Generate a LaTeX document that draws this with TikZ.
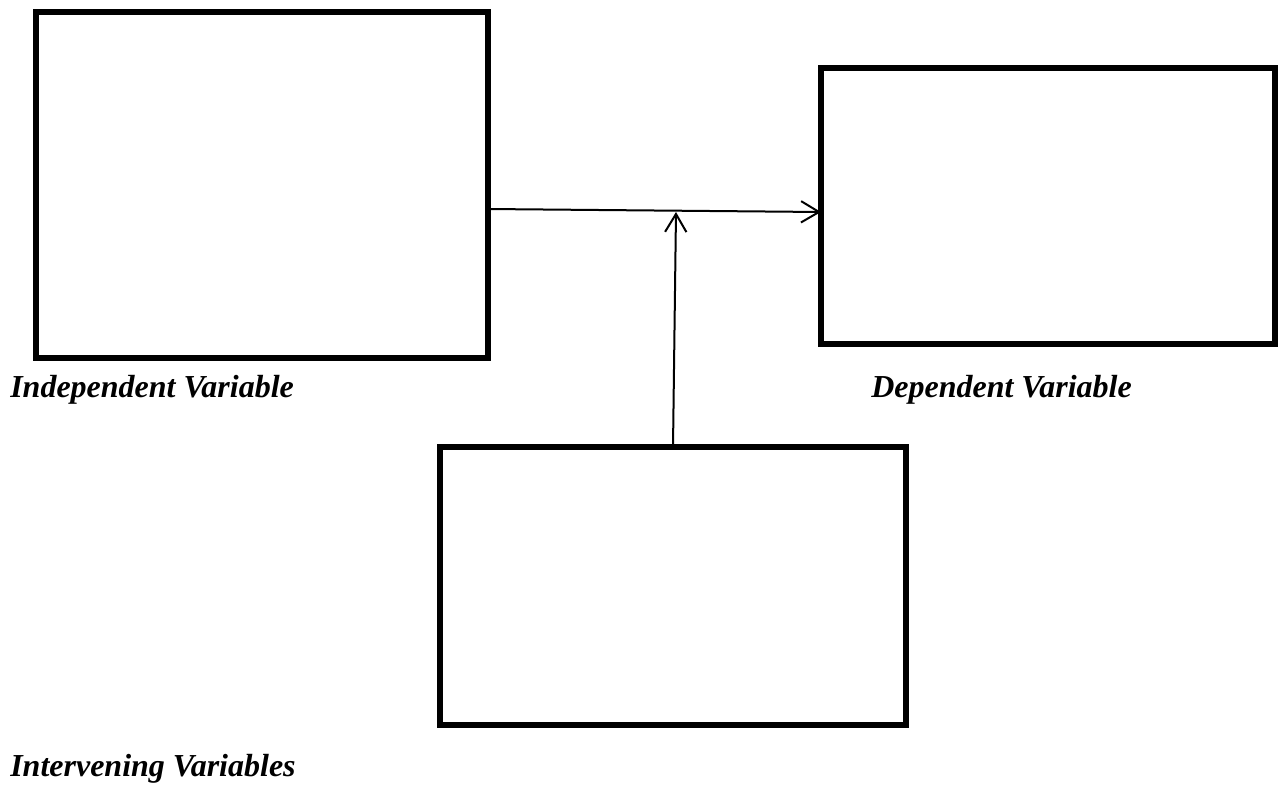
\documentclass[tikz,border=0pt]{standalone}
\usepackage{fontspec}
\setmainfont{Liberation Serif}
\usetikzlibrary{arrows.meta,calc}
\begin{document}
\begin{tikzpicture}[x=0.75pt,y=-0.75pt,
  varbox/.style={draw,line width=4.2pt,inner sep=0pt,outer sep=0pt,anchor=north west},
  link/.style={line width=1.5pt,-{Straight Barb[length=13.5pt,width=16pt,line width=1.5pt]}},
  lbl/.style={anchor=base west,inner sep=0pt,font=\fontsize{24}{28}\selectfont\bfseries\itshape}]
\useasboundingbox (0,0) rectangle (1281,785);
\node[varbox,minimum width=452pt*0.75,minimum height=346pt*0.75] (b1) at (36,12) {};
\node[varbox,minimum width=454pt*0.75,minimum height=276pt*0.75] (b2) at (821,68) {};
\node[varbox,minimum width=466pt*0.75,minimum height=278pt*0.75] (b3) at (440,447) {};
\coordinate (h1) at (0,209);
\coordinate (h2) at (0,212);
\coordinate (v1) at (673,0);
\coordinate (m) at (676,212);
\draw[link] (b1.east |- h1) -- (b2.west |- h2);
\draw[link] (b3.north -| v1) -- (m);
\node[lbl] (l1) at (10,397) {Independent Variable};
\node[lbl] (l2) at (871,397) {Dependent Variable};
\node[lbl] (l3) at (10,776) {Intervening Variables};
\end{tikzpicture}
\end{document}
